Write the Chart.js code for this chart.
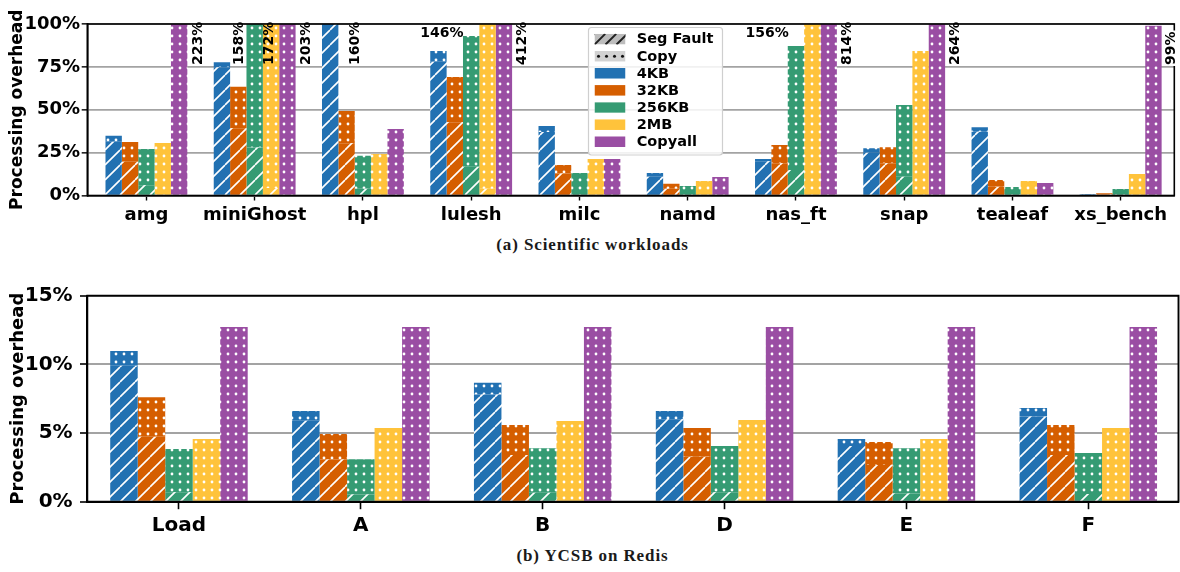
<!DOCTYPE html>
<html><head><meta charset="utf-8">
<script src="https://cdn.jsdelivr.net/npm/chart.js@4.4.1/dist/chart.umd.min.js"></script>
<style>
html,body{margin:0;padding:0;background:#fff;width:1180px;height:572px;overflow:hidden;position:relative;}
canvas{position:absolute;left:0;}
#c1{top:0;}
#c2{top:262px;}
.cap{position:absolute;left:0;width:1185px;text-align:center;font-family:'Liberation Serif',serif;font-weight:bold;font-size:17px;line-height:20px;letter-spacing:0.9px;color:#1a1a1a;}
</style></head><body>
<canvas id="c1" width="1180" height="234"></canvas>
<div class="cap" style="top:235px">(a) Scientific workloads</div>
<canvas id="c2" width="1180" height="280"></canvas>
<div class="cap" style="top:546px">(b) YCSB on Redis</div>
<script>
// ---------------- data ----------------
const SIZES = ['4KB', '32KB', '256KB', '2MB'];

const sciCategories = ['amg', 'miniGhost', 'hpl', 'lulesh', 'milc', 'namd', 'nas_ft', 'snap', 'tealeaf', 'xs_bench'];
const sciSeg4KB    = [31.4, 74.8, 155, 78.0, 37.0, 11.0, 20.0, 25.0, 37.2, 0.6];
const sciCopy4KB   = [3.4, 2.9, 5.0, 6.3, 3.5, 2.1, 1.3, 2.5, 2.6, 0.3];
const sciSeg32KB   = [19.7, 39.2, 30.4, 42.7, 12.9, 4.0, 18.8, 18.8, 5.1, 0.8];
const sciCopy32KB  = [11.5, 24.2, 18.9, 26.4, 4.9, 2.9, 10.6, 9.3, 3.9, 0.5];
const sciSeg256KB  = [6.0, 28.0, 4.0, 16.8, 0, 0, 14.9, 11.0, 0, 0];
const sciCopy256KB = [21.1, 130.0, 19.2, 76.2, 13.1, 5.5, 72.3, 41.8, 5.0, 3.8];
const sciSeg2MB    = [0, 4.4, 0, 4.0, 0, 0, 0, 0, 0, 0];
const sciCopy2MB   = [30.6, 167.6, 24.2, 142.0, 21.3, 8.5, 156, 84.3, 8.5, 12.5];
const sciCopyall   = [223, 203, 38.8, 412, 21.3, 10.8, 814, 264, 7.3, 99];
const sciYTicks    = [0, 25, 50, 75, 100];

const ycsbCategories = ['Load', 'A', 'B', 'D', 'E', 'F'];
const ycsbSeg4KB    = [9.9, 5.9, 7.8, 6.0, 4.05, 6.2];
const ycsbCopy4KB   = [1.07, 0.7, 0.86, 0.6, 0.51, 0.62];
const ycsbSeg32KB   = [4.73, 3.08, 3.4, 3.28, 2.67, 3.4];
const ycsbCopy32KB  = [2.87, 1.85, 2.18, 2.08, 1.67, 2.18];
const ycsbSeg256KB  = [0.68, 0.53, 0.65, 0.68, 0.6, 0.56];
const ycsbCopy256KB = [3.15, 2.57, 3.25, 3.37, 3.3, 2.98];
const ycsbSeg2MB    = [0, 0, 0, 0, 0, 0];
const ycsbCopy2MB   = [4.56, 5.36, 5.87, 5.95, 4.56, 5.36];
const ycsbCopyall   = [12.72, 12.72, 12.72, 12.72, 12.72, 12.72];
const ycsbYTicks    = [0, 5, 10, 15];

// which bars get an overflow value label (label text comes from the data)
const sciValueLabels = [
  { cat: 0, series: 'Copyall', dx: 19.5, rotated: true },
  { cat: 1, series: '256KB',   dx: -15,  rotated: true },
  { cat: 1, series: '2MB',     dx: -1.4, rotated: true },
  { cat: 1, series: 'Copyall', dx: 19,   rotated: true },
  { cat: 2, series: '4KB',     dx: 25,   rotated: true },
  { cat: 3, series: '2MB',     dx: -45.6, rotated: false },
  { cat: 3, series: 'Copyall', dx: 18.6, rotated: true },
  { cat: 6, series: '2MB',     dx: -45.2, rotated: false },
  { cat: 6, series: 'Copyall', dx: 19,   rotated: true },
  { cat: 7, series: 'Copyall', dx: 18.5, rotated: true },
  { cat: 9, series: 'Copyall', dx: 18,   rotated: true, box: true }
];

// ---------------- styles ----------------
const COLORS = { '4KB': '#2271b2', '32KB': '#d55e00', '256KB': '#359b73', '2MB': '#ffc33b', 'Copyall': '#9a4ea3' };
Chart.defaults.font.family = "'DejaVu Sans', sans-serif";
Chart.defaults.color = '#000';

function makeHatch(ctx, bg) {
  const s = 15, c = document.createElement('canvas'); c.width = s; c.height = s;
  const g = c.getContext('2d');
  g.fillStyle = bg; g.fillRect(0, 0, s, s);
  g.strokeStyle = '#ffffff'; g.lineWidth = 1.6;
  g.beginPath();
  for (const o of [-s, 0, s]) { g.moveTo(o, s); g.lineTo(o + s, 0); }
  g.stroke();
  return ctx.createPattern(c, 'repeat');
}
function makeDots(ctx, bg) {
  const s = 8, c = document.createElement('canvas'); c.width = s; c.height = s;
  const g = c.getContext('2d');
  g.fillStyle = bg; g.fillRect(0, 0, s, s);
  g.fillStyle = '#ffffff';
  g.beginPath(); g.arc(s / 2, s / 2, 1.4, 0, Math.PI * 2); g.fill();
  return ctx.createPattern(c, 'repeat');
}

function buildChart(canvasId, p) {
  const canvas = document.getElementById(canvasId);
  const ctx = canvas.getContext('2d');
  const pts = (arr) => arr.map((v, i) => ({ x: i, y: v }));
  const datasets = [];
  SIZES.forEach((s, k) => {
    datasets.push({ label: s + ' Seg Fault', series: s, data: pts(p.seg[k]), backgroundColor: makeHatch(ctx, COLORS[s]), stack: s });
    datasets.push({ label: s + ' Copy', series: s, data: pts(p.copy[k]), backgroundColor: makeDots(ctx, COLORS[s]), stack: s });
  });
  datasets.push({ label: 'Copyall', series: 'Copyall', data: pts(p.copyall), backgroundColor: makeDots(ctx, COLORS.Copyall), stack: 'Copyall' });

  const frame = {
    id: 'frame',
    afterDatasetsDraw(chart) {
      const c = chart.ctx, a = chart.chartArea;
      c.save();
      c.strokeStyle = '#000'; c.lineWidth = p.spineW;
      c.strokeRect(a.left, a.top, a.right - a.left, a.bottom - a.top);
      c.restore();
      if (p.after) p.after(chart, datasets);
    }
  };

  return new Chart(ctx, {
    type: 'bar',
    data: { datasets },
    options: {
      animation: false, responsive: false, devicePixelRatio: 1, events: [],
      layout: { padding: { left: 0, top: p.top, right: p.right, bottom: 0 } },
      datasets: { bar: { categoryPercentage: 0.756, barPercentage: 1, borderWidth: 0 } },
      plugins: { legend: { display: false }, tooltip: { enabled: false } },
      scales: {
        x: {
          type: 'linear', min: p.xmin, max: p.xmax, offset: false,
          grid: { offset: false, drawOnChartArea: false, drawTicks: true, tickLength: p.xTickLen, tickColor: '#000', tickWidth: p.tickW, color: '#000' },
          border: { display: true, color: '#000', width: p.spineW },
          afterBuildTicks: (sc) => { sc.ticks = p.cats.map((_, i) => ({ value: i })); },
          ticks: { autoSkip: false, maxRotation: 0, minRotation: 0, padding: p.xPad, font: { size: p.xFont, weight: 'bold' }, callback: (v) => p.cats[v] },
          afterFit: (sc) => { sc.height = p.xH; }
        },
        y: {
          type: 'linear', min: 0, max: p.ymax,
          grid: { color: '#a3a3a3', lineWidth: p.gridW, tickColor: '#000', tickWidth: p.tickW, tickLength: p.yTickLen, drawTicks: true },
          border: { display: true, color: '#000', width: p.spineW },
          afterBuildTicks: (sc) => { sc.ticks = p.yTicks.map((v) => ({ value: v })); },
          ticks: { padding: p.yPad, font: { size: p.yFont, weight: 'bold' }, callback: (v) => v + '%' },
          title: { display: true, text: 'Processing overhead', font: { size: p.titleFont, weight: 'bold' }, padding: { top: p.titlePad, bottom: 0 } },
          afterFit: (sc) => { sc.width = p.yW; }
        }
      }
    },
    plugins: [frame]
  });
}

function drawSciExtras(chart, datasets) {
  const c = chart.ctx, a = chart.chartArea;
  // value labels for clipped bars
  c.save();
  c.font = 'bold 14px "DejaVu Sans"';
  c.fillStyle = '#000';
  sciValueLabels.forEach((L) => {
    const idx = datasets.findIndex((d, j) => d.series === L.series && (L.series === 'Copyall' || j % 2 === 1));
    let total = 0;
    datasets.forEach((d) => { if (d.series === L.series) total += d.data[L.cat].y; });
    const text = Math.round(total) + '%';
    const bar = chart.getDatasetMeta(idx).data[L.cat];
    const x = bar.x + L.dx;
    if (L.rotated) {
      const y = a.top + 41;
      c.save();
      c.translate(x, y); c.rotate(-Math.PI / 2);
      c.textAlign = 'left'; c.textBaseline = 'middle';
      if (L.box) {
        const w = c.measureText(text).width;
        c.fillStyle = '#fff'; c.fillRect(-1, -8, w + 2, 16); c.fillStyle = '#000';
      }
      c.fillText(text, 0, 0);
      c.restore();
    } else {
      c.textAlign = 'center'; c.textBaseline = 'middle';
      c.fillText(text, x, a.top + 9.5);
    }
  });
  c.restore();

  // legend
  const box = { x: 588.5, y: 27.5, w: 134, h: 127.5 };
  c.save();
  c.beginPath();
  c.roundRect(box.x, box.y, box.w, box.h, 3);
  c.globalAlpha = 0.85; c.fillStyle = '#fff'; c.fill();
  c.globalAlpha = 1; c.strokeStyle = '#cfcfcf'; c.lineWidth = 1.2; c.stroke();
  const entries = [
    { label: 'Seg Fault', kind: 'hatch' },
    { label: 'Copy', kind: 'dots' },
    { label: '4KB', color: COLORS['4KB'] },
    { label: '32KB', color: COLORS['32KB'] },
    { label: '256KB', color: COLORS['256KB'] },
    { label: '2MB', color: COLORS['2MB'] },
    { label: 'Copyall', color: COLORS['Copyall'] }
  ];
  const hx = 594.5, hw = 31, hh = 10.7;
  entries.forEach((e, i) => {
    const cy = 39.2 + i * 17.08;
    const hy = cy - hh / 2;
    c.save();
    c.beginPath(); c.rect(hx, hy, hw, hh); c.clip();
    if (e.kind === 'hatch') {
      c.fillStyle = '#bdbdbd'; c.fillRect(hx, hy, hw, hh);
      c.strokeStyle = '#222'; c.lineWidth = 2;
      c.beginPath();
      for (let k = -2; k < 5; k++) { const bx = hx + k * 11; c.moveTo(bx, hy + hh); c.lineTo(bx + hh, hy); }
      c.stroke();
    } else if (e.kind === 'dots') {
      c.fillStyle = '#d2d2d2'; c.fillRect(hx, hy, hw, hh);
      c.fillStyle = '#111';
      for (let k = 0; k < 4; k++) { c.beginPath(); c.arc(hx + 4 + k * 8, cy, 1.5, 0, Math.PI * 2); c.fill(); }
    } else {
      c.fillStyle = e.color; c.fillRect(hx, hy, hw, hh);
    }
    c.restore();
    c.font = 'bold 14.5px "DejaVu Sans"';
    c.fillStyle = '#000'; c.textAlign = 'left'; c.textBaseline = 'middle';
    c.fillText(e.label, 636.7, cy + 0.5);
  });
  c.restore();
}

buildChart('c1', {
  cats: sciCategories,
  seg: [sciSeg4KB, sciSeg32KB, sciSeg256KB, sciSeg2MB],
  copy: [sciCopy4KB, sciCopy32KB, sciCopy256KB, sciCopy2MB],
  copyall: sciCopyall,
  yTicks: sciYTicks, ymax: 100,
  xmin: -0.546, xmax: 9.495,
  top: 24, right: 5.7, xH: 38.5, yW: 87.3,
  xTickLen: 5, yTickLen: 5.6, xPad: 4.5, yPad: 1.7,
  xFont: 18, yFont: 18, titleFont: 17, titlePad: 7,
  spineW: 1.6, tickW: 1.4, gridW: 1.7,
  after: drawSciExtras
});

buildChart('c2', {
  cats: ycsbCategories,
  seg: [ycsbSeg4KB, ycsbSeg32KB, ycsbSeg256KB, ycsbSeg2MB],
  copy: [ycsbCopy4KB, ycsbCopy32KB, ycsbCopy256KB, ycsbCopy2MB],
  copyall: ycsbCopyall,
  yTicks: ycsbYTicks, ymax: 15,
  xmin: -0.504, xmax: 5.496,
  top: 33.7, right: 1.5, xH: 40.3, yW: 87.3,
  xTickLen: 7.5, yTickLen: 7.3, xPad: 4.7, yPad: 7.4,
  xFont: 20, yFont: 20, titleFont: 18, titlePad: 7.5,
  spineW: 1.9, tickW: 1.6, gridW: 2
});
</script>
</body></html>
